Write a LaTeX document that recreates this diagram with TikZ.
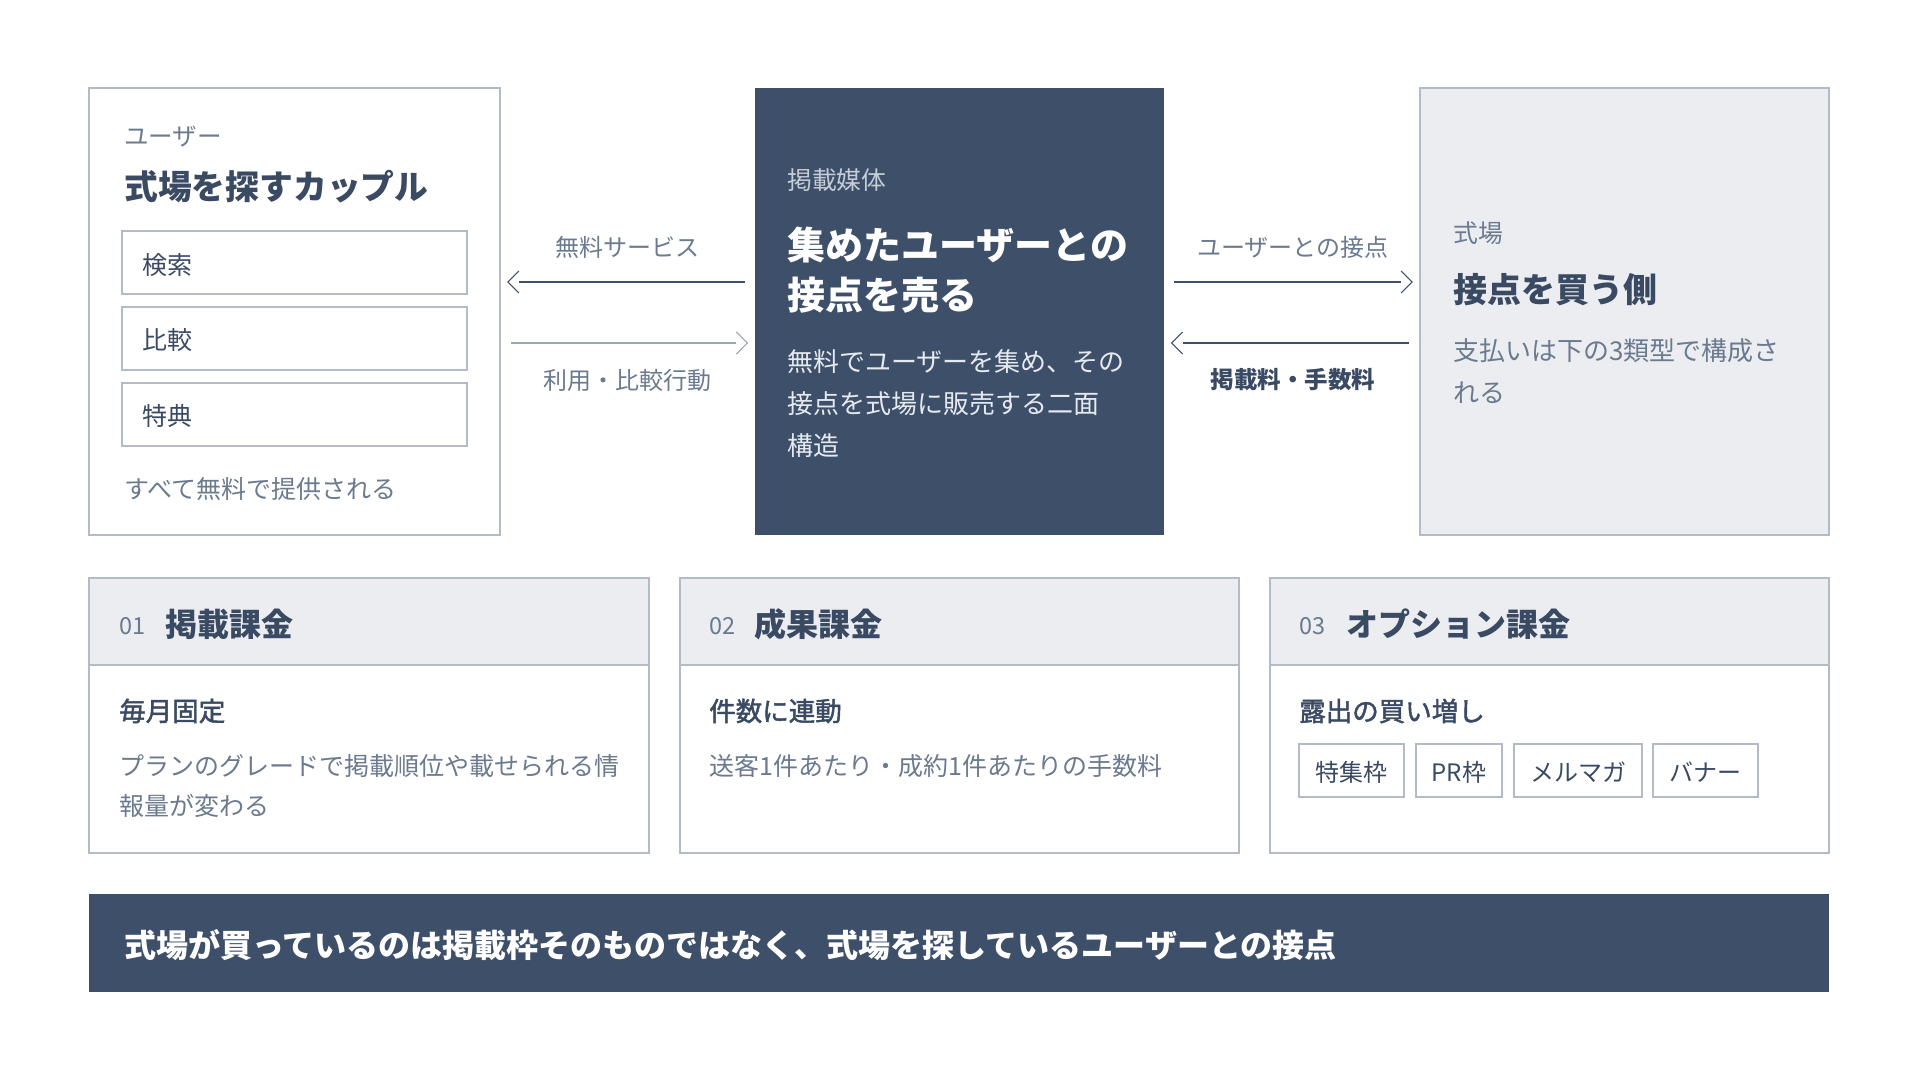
\documentclass[tikz,border=0pt]{standalone}
\usepackage{fontspec}
\setmainfont{Noto Sans CJK JP}
\newfontfamily\medfont{Noto Sans CJK JP}[FakeBold=1.8]
\usetikzlibrary{fit,arrows.meta}
\definecolor{navy}{HTML}{3D4F69}
\definecolor{ink}{HTML}{3A4A63}
\definecolor{greytx}{HTML}{6B7A8F}
\definecolor{bord}{HTML}{B3BBC7}
\definecolor{band}{HTML}{EBEDF1}
\definecolor{lightln}{HTML}{9AA6B5}
\definecolor{navytx}{HTML}{C5CDD8}
\definecolor{navybody}{HTML}{E6EAF0}
\newcommand\fsz[2]{\fontsize{\dimexpr #1pt*3/4\relax}{\dimexpr #2pt*3/4\relax}\selectfont}
\pgfdeclarearrow{
  name=Chev,
  setup code={
    \pgfarrowssettipend{0pt}
    \pgfarrowssetlineend{-8.25pt}
    \pgfarrowssetbackend{-8.25pt}
  },
  drawing code={
    \pgfsetlinewidth{0.8pt}
    \pgfsetdash{}{0pt}
    \pgfpathmoveto{\pgfpoint{-8.25pt}{8.25pt}}
    \pgfpathlineto{\pgfpointorigin}
    \pgfpathlineto{\pgfpoint{-8.25pt}{-8.25pt}}
    \pgfusepathqstroke
  }
}
\tikzset{
  box/.style={draw=bord, line width=0.9pt, fill=white, inner sep=0pt},
  darkbox/.style={fill=navy, inner sep=0pt},
  graybox/.style={draw=bord, line width=0.9pt, fill=band, inner sep=0pt},
  bandbox/.style={draw=bord, line width=0.9pt, fill=band, inner sep=0pt},
  txt/.style={anchor=west, inner sep=0pt, align=left},
  ctxt/.style={anchor=center, inner sep=0pt},
  arr/.style={line width=1.5pt, -Chev, shorten <=7.5pt, shorten >=5.5pt},
}
\begin{document}
\begin{tikzpicture}[x=0.75pt,y=-0.75pt]
\useasboundingbox[fill=white] (0,0) rectangle (1920,1080);

% top row boxes
\node[box, fit={(89,88)(500,535)}] (user) {};
\node[darkbox, fit={(755,88)(1164,535)}] (media) {};
\node[graybox, fit={(1420,88)(1829,535)}] (venue) {};

% user box content
\node[txt, text=greytx, font=\fsz{24.5}{28}] (ulab) at (124,137) {ユーザー};
\node[txt, text=ink, font=\fsz{33.8}{40}\bfseries] (utitle) at (124,187) {式場を探すカップル};
\node[box, fit={(122,231)(467,294)}] (i1) {};
\node[box, fit={(122,307)(467,370)}] (i2) {};
\node[box, fit={(122,383)(467,446)}] (i3) {};
\node[txt, text=ink, font=\fsz{25}{30}] at (142,265) {検索};
\node[txt, text=ink, font=\fsz{25}{30}] at (142,340) {比較};
\node[txt, text=ink, font=\fsz{25}{30}] at (142,416) {特典};
\node[txt, text=greytx, font=\fsz{25}{30}] (ufoot) at (124,489) {すべて無料で提供される};

% media box content
\node[txt, text=navytx, font=\fsz{24.8}{28}] (mlab) at (787,180) {掲載媒体};
\node[txt, text=white, font=\fsz{38}{50}\bfseries] (mtitle) at (787,270) {集めたユーザーとの\\接点を売る};
\node[txt, text=navybody, font=\fsz{26}{42}] (mbody) at (787,404) {無料でユーザーを集め、その\\接点を式場に販売する二面\\構造};

% venue box content
\node[txt, text=greytx, font=\fsz{24.8}{28}] (vlab) at (1453,233) {式場};
\node[txt, text=ink, font=\fsz{34}{40}\bfseries] (vtitle) at (1453,290) {接点を買う側};
\node[txt, text=greytx, font=\fsz{26}{42}] (vbody) at (1453,371) {支払いは下の3類型で構成さ\\れる};

% arrows
\draw[arr, draw=navy] (media.west |- 0,282) -- (user.east |- 0,282);
\draw[arr, draw=lightln] (user.east |- 0,343) -- (media.west |- 0,343);
\draw[arr, draw=navy] (media.east |- 0,282) -- (venue.west |- 0,282);
\draw[arr, draw=navy] (venue.west |- 0,343) -- (media.east |- 0,343);
\node[ctxt, text=greytx, font=\fsz{24}{28}] (l1) at (627,247) {無料サービス};
\node[ctxt, text=greytx, font=\fsz{24}{28}] (l2) at (627,380) {利用・比較行動};
\node[ctxt, text=greytx, font=\fsz{24}{28}] (l3) at (1293,247) {ユーザーとの接点};
\node[ctxt, text=ink, font=\fsz{23.5}{28}\bfseries] (l4) at (1293,380) {掲載料・手数料};

% cards
\node[box, fit={(89,578)(649,853)}] (c1) {};
\node[bandbox, fit={(89,578)(649,665)}] (c1h) {};
\node[box, fit={(680,578)(1239,853)}] (c2) {};
\node[bandbox, fit={(680,578)(1239,665)}] (c2h) {};
\node[box, fit={(1270,578)(1829,853)}] (c3) {};
\node[bandbox, fit={(1270,578)(1829,665)}] (c3h) {};

\node[txt, text=greytx, font=\fsz{23.5}{28}] at (119,626) {01};
\node[txt, text=ink, font=\fsz{32}{40}\bfseries] at (165,624) {掲載課金};
\node[txt, text=greytx, font=\fsz{23.5}{28}] at (709,626) {02};
\node[txt, text=ink, font=\fsz{32}{40}\bfseries] at (754,624) {成果課金};
\node[txt, text=greytx, font=\fsz{23.5}{28}] at (1299,626) {03};
\node[txt, text=ink, font=\fsz{32}{40}\bfseries] at (1346,624) {オプション課金};

\node[txt, text=ink, font=\fsz{26.5}{32}\medfont] at (119,711) {毎月固定};
\node[txt, text=greytx, font=\fsz{25}{40}] at (119,786) {プランのグレードで掲載順位や載せられる情\\報量が変わる};
\node[txt, text=ink, font=\fsz{26.5}{32}\medfont] at (709,711) {件数に連動};
\node[txt, text=greytx, font=\fsz{25}{40}] at (709,766) {送客1件あたり・成約1件あたりの手数料};
\node[txt, text=ink, font=\fsz{26.5}{32}\medfont] at (1299,711) {露出の買い増し};

\node[box, fit={(1299,744)(1404,797)}] (t1) {};
\node[box, fit={(1416,744)(1502,797)}] (t2) {};
\node[box, fit={(1514,744)(1642,797)}] (t3) {};
\node[box, fit={(1653,744)(1758,797)}] (t4) {};
\node[ctxt, text=ink, font=\fsz{24}{28}] at ([yshift=-1.5pt]t1.center) {特集枠};
\node[ctxt, text=ink, font=\fsz{24}{28}] at ([yshift=-1.5pt]t2.center) {PR枠};
\node[ctxt, text=ink, font=\fsz{24}{28}] at ([yshift=-1.5pt]t3.center) {メルマガ};
\node[ctxt, text=ink, font=\fsz{24}{28}] at ([yshift=-1.5pt]t4.center) {バナー};

% bottom bar
\node[darkbox, fit={(89,894)(1829,992)}] (bar) {};
\node[txt, text=white, font=\fsz{32}{40}\bfseries] at (124,945) {式場が買っているのは掲載枠そのものではなく、式場を探しているユーザーとの接点};
\end{tikzpicture}
\end{document}
